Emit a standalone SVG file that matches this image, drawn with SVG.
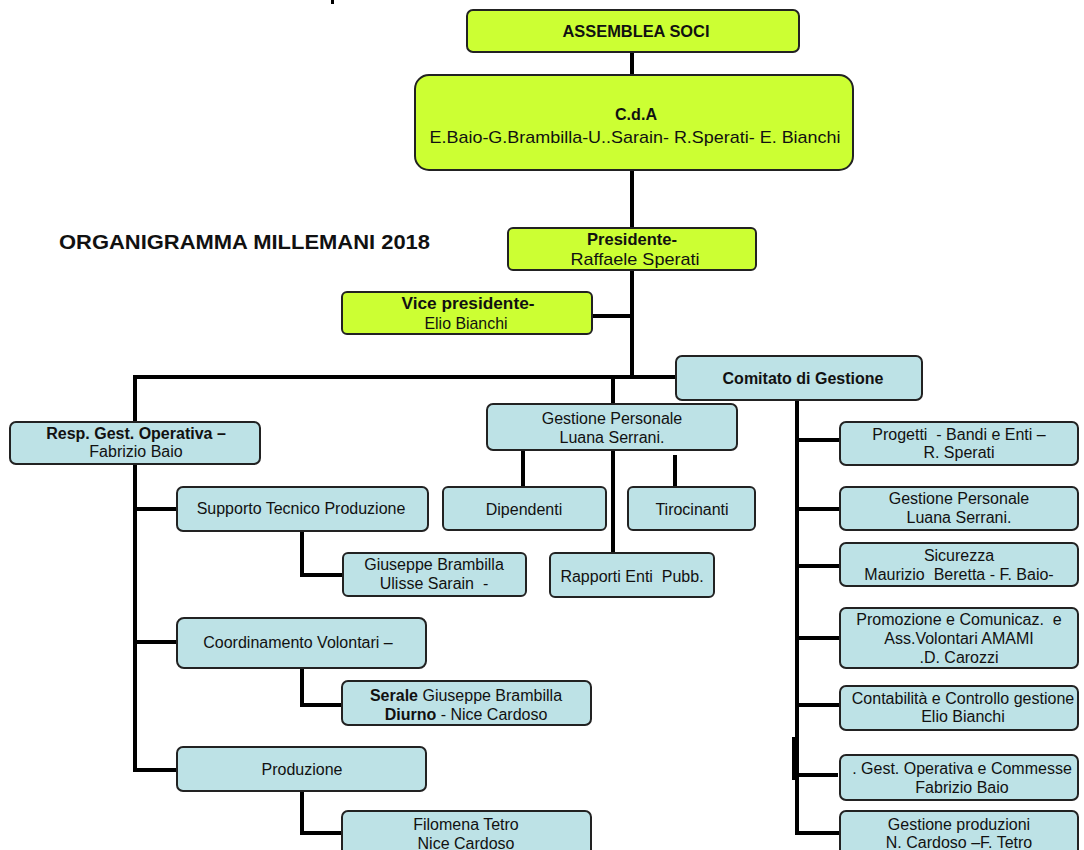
<svg xmlns="http://www.w3.org/2000/svg" width="1084" height="850" viewBox="0 0 1084 850">
<style>
.y{fill:#ccff33;stroke:#222;stroke-width:2}
.b{fill:#bde2e6;stroke:#222;stroke-width:2}
text{font-family:"Liberation Sans",Arial,sans-serif;fill:#111;text-anchor:middle;font-size:16px}
.bd{font-weight:bold}
.yt{font-size:17px}
.c{fill:none;stroke:#000;stroke-width:4}
</style>
<rect width="1084" height="850" fill="#fff"/>
<rect x="331" y="0" width="3" height="4" fill="#000"/>
<text x="59" y="249" class="bd" style="text-anchor:start;font-size:20px" textLength="371" lengthAdjust="spacingAndGlyphs">ORGANIGRAMMA MILLEMANI 2018</text>
<g id="connectors">
<path class="c" d="M632 52V76M632 170V377M592 316H632M135 377H676M135 375V424M135 464V770H177M135 509H177M135 642H177M613 377V404M797 400V835M797 440H840M797 509H840M797 566H840M797 638H840M797 705H840M797 775H838M797 833H840M302 531V575H343M302 668V705H342M302 791V833H342M523 450V487M613 450V553M675 455V487"/>
<rect x="792" y="737" width="5" height="43" fill="#000"/>
</g>
<g id="assemblea"><rect class="y" x="467" y="10" width="332" height="42" rx="6"/><text x="636" y="37" class="bd yt" textLength="147" lengthAdjust="spacingAndGlyphs">ASSEMBLEA SOCI</text></g>
<g id="cda"><rect class="y" x="415" y="75" width="438" height="95" rx="14"/><text x="636" y="120" class="bd yt" textLength="42" lengthAdjust="spacingAndGlyphs">C.d.A</text><text x="635" y="143" class="yt" textLength="411" lengthAdjust="spacingAndGlyphs">E.Baio-G.Brambilla-U..Sarain- R.Sperati- E. Bianchi</text></g>
<g id="presidente"><rect class="y" x="508" y="228" width="248" height="42" rx="5"/><text x="632" y="245" class="bd yt" textLength="90" lengthAdjust="spacingAndGlyphs">Presidente-</text><text x="635" y="265" class="yt" textLength="129" lengthAdjust="spacingAndGlyphs">Raffaele Sperati</text></g>
<g id="vice"><rect class="y" x="342" y="292" width="250" height="42" rx="5"/><text x="468" y="309" class="bd yt" textLength="133" lengthAdjust="spacingAndGlyphs">Vice presidente-</text><text x="466" y="329" class="yt" textLength="83" lengthAdjust="spacingAndGlyphs">Elio Bianchi</text></g>
<g id="comitato"><rect class="b" x="676" y="356" width="246" height="44" rx="6"/><text x="803" y="384" class="bd">Comitato di Gestione</text></g>
<g id="resp"><rect class="b" x="10" y="422" width="250" height="42" rx="6"/><text x="136" y="439" class="bd">Resp. Gest. Operativa –</text><text x="136" y="457">Fabrizio Baio</text></g>
<g id="supporto"><rect class="b" x="177" y="487" width="251" height="44" rx="6"/><text x="301" y="514">Supporto Tecnico Produzione</text></g>
<g id="giuseppe"><rect class="b" x="343" y="553" width="183" height="43" rx="5"/><text x="434" y="570">Giuseppe Brambilla</text><text x="434" y="589" xml:space="preserve">Ulisse Sarain  -</text></g>
<g id="coord"><rect class="b" x="177" y="618" width="249" height="50" rx="7"/><text x="298" y="648">Coordinamento Volontari –</text></g>
<g id="serale"><rect class="b" x="342" y="681" width="249" height="44" rx="6"/><text x="466" y="701"><tspan class="bd">Serale</tspan> Giuseppe Brambilla</text><text x="466" y="720"><tspan class="bd">Diurno</tspan> - Nice Cardoso</text></g>
<g id="produzione"><rect class="b" x="177" y="747" width="249" height="44" rx="6"/><text x="302" y="775">Produzione</text></g>
<g id="filomena"><rect class="b" x="342" y="811" width="249" height="50" rx="6"/><text x="466" y="830">Filomena Tetro</text><text x="466" y="849">Nice Cardoso</text></g>
<g id="gestpers"><rect class="b" x="487" y="404" width="250" height="46" rx="6"/><text x="612" y="424">Gestione Personale</text><text x="612" y="443">Luana Serrani.</text></g>
<g id="dipendenti"><rect class="b" x="443" y="487" width="163" height="43" rx="5"/><text x="524" y="515">Dipendenti</text></g>
<g id="tirocinanti"><rect class="b" x="628" y="487" width="127" height="43" rx="5"/><text x="692" y="515">Tirocinanti</text></g>
<g id="rapporti"><rect class="b" x="550" y="553" width="164" height="44" rx="5"/><text x="632" y="582" xml:space="preserve">Rapporti Enti  Pubb.</text></g>
<g id="progetti"><rect class="b" x="840" y="422" width="238" height="43" rx="6"/><text x="959" y="440" xml:space="preserve">Progetti  - Bandi e Enti –</text><text x="959" y="458">R. Sperati</text></g>
<g id="gestpers2"><rect class="b" x="840" y="487" width="238" height="43" rx="6"/><text x="959" y="504">Gestione Personale</text><text x="959" y="523">Luana Serrani.</text></g>
<g id="sicurezza"><rect class="b" x="840" y="543" width="238" height="43" rx="6"/><text x="959" y="561">Sicurezza</text><text x="959" y="580" xml:space="preserve">Maurizio  Beretta - F. Baio-</text></g>
<g id="promozione"><rect class="b" x="840" y="608" width="238" height="60" rx="6"/><text x="959" y="625" xml:space="preserve">Promozione e Comunicaz.  e</text><text x="959" y="644">Ass.Volontari AMAMI</text><text x="959" y="663">.D. Carozzi</text></g>
<g id="contabilita"><rect class="b" x="840" y="686" width="238" height="44" rx="6"/><text x="963" y="704">Contabilità e Controllo gestione</text><text x="963" y="722">Elio Bianchi</text></g>
<g id="gestop"><rect class="b" x="840" y="755" width="238" height="45" rx="6"/><text x="962" y="774">. Gest. Operativa e Commesse</text><text x="962" y="793">Fabrizio Baio</text></g>
<g id="gestprod"><rect class="b" x="840" y="811" width="238" height="50" rx="6"/><text x="959" y="830">Gestione produzioni</text><text x="959" y="848">N. Cardoso –F. Tetro</text></g>
</svg>
